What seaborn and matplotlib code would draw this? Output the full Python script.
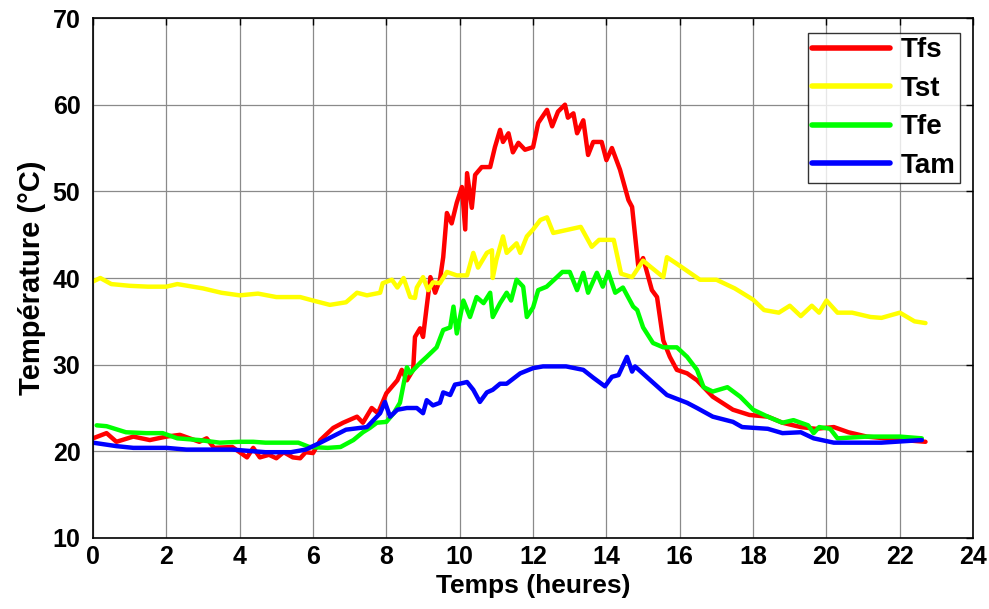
import pandas as pd
import numpy as np
import matplotlib
matplotlib.use("Agg")
import matplotlib.pyplot as plt
import seaborn as sns

# ==========================================
# 1. DONNÉES
# ==========================================
t_fs = [0.0, 0.37, 0.64, 1.1, 1.55, 2.0, 2.37, 2.9, 3.1, 3.3, 3.8, 4.2, 4.37, 4.55, 4.8, 5.0,
        5.2, 5.45, 5.65, 5.8, 6.0, 6.2, 6.55, 6.82, 7.2, 7.36, 7.6, 7.77, 8.0, 8.3, 8.42, 8.56,
        8.73, 8.78, 8.92, 9.0, 9.1, 9.2, 9.33, 9.46, 9.55, 9.65, 9.78, 9.92, 10.06, 10.15, 10.2,
        10.33, 10.42, 10.6, 10.83, 10.96, 11.1, 11.18, 11.33, 11.45, 11.6, 11.78, 12.0, 12.14,
        12.38, 12.52, 12.68, 12.87, 12.95, 13.1, 13.2, 13.37, 13.5, 13.64, 13.87, 14.0, 14.15,
        14.37, 14.6, 14.7, 14.87, 15.0, 15.24, 15.38, 15.55, 15.73, 15.92, 16.2, 16.47, 16.9,
        17.45, 17.6, 17.9, 18.4, 18.8, 19.3, 19.7, 20.2, 20.6, 21.1, 21.6, 22.1, 22.7]
v_fs = [21.5, 22.1, 21.1, 21.7, 21.3, 21.7, 21.9, 21.1, 21.5, 20.4, 20.5, 19.3, 20.4, 19.3,
        19.6, 19.2, 19.9, 19.3, 19.2, 19.9, 19.8, 21.3, 22.7, 23.3, 24.0, 23.3, 25.0, 24.4, 26.7,
        28.2, 29.4, 28.2, 29.4, 33.2, 34.2, 33.2, 36.7, 40.1, 38.3, 39.8, 42.4, 47.5, 46.3, 48.7,
        50.5, 45.6, 52.1, 48.1, 51.9, 52.8, 52.8, 55.1, 57.1, 55.7, 56.7, 54.5, 55.6, 54.8, 55.1,
        57.9, 59.4, 57.5, 59.2, 60.0, 58.5, 59.0, 56.7, 58.2, 54.2, 55.7, 55.7, 53.6, 55.0, 52.5,
        49.0, 48.2, 41.3, 42.3, 38.6, 37.8, 32.8, 30.9, 29.4, 29.0, 28.2, 26.3, 24.8, 24.6, 24.2,
        24.0, 23.3, 22.8, 22.6, 22.8, 22.2, 21.7, 21.5, 21.3, 21.1]

t_st = [0.0, 0.2, 0.5, 1.0, 1.5, 2.0, 2.3, 3.0, 3.5, 4.0, 4.5, 5.0, 5.65, 6.0, 6.46, 6.9, 7.2,
        7.47, 7.83, 7.9, 8.15, 8.3, 8.47, 8.65, 8.78, 8.83, 9.0, 9.14, 9.27, 9.46, 9.65, 9.92,
        10.2, 10.37, 10.5, 10.74, 10.88, 10.9, 11.0, 11.18, 11.28, 11.55, 11.65, 11.83, 12.0,
        12.2, 12.38, 12.55, 13.3, 13.6, 13.8, 14.2, 14.4, 14.7, 15.0, 15.2, 15.55, 15.65, 15.9,
        16.55, 17.0, 17.5, 18.0, 18.3, 18.7, 19.0, 19.3, 19.6, 19.8, 20.0, 20.3, 20.7, 21.2,
        21.5, 22.0, 22.4, 22.7]
v_st = [39.6, 40.0, 39.3, 39.1, 39.0, 39.0, 39.3, 38.8, 38.3, 38.0, 38.2, 37.8, 37.8, 37.4,
        36.9, 37.2, 38.3, 38.0, 38.3, 39.4, 39.8, 38.9, 40.0, 37.8, 37.7, 38.9, 40.1, 38.6, 39.5,
        39.4, 40.7, 40.3, 40.3, 42.9, 41.2, 42.9, 43.2, 40.0, 42.1, 44.8, 42.9, 44.0, 42.9, 44.8,
        45.6, 46.7, 47.0, 45.2, 45.9, 43.6, 44.4, 44.4, 40.5, 40.1, 42.0, 41.3, 40.1, 42.4, 41.7,
        39.8, 39.8, 38.8, 37.5, 36.3, 36.0, 36.8, 35.6, 36.8, 36.0, 37.4, 36.0, 36.0, 35.5, 35.4,
        36.0, 35.0, 34.8]

t_fe = [0.1, 0.37, 0.9, 1.45, 1.9, 2.3, 2.9, 3.46, 4.0, 4.37, 4.7, 5.25, 5.6, 5.9, 6.4, 6.75,
        7.1, 7.36, 7.55, 7.74, 8.0, 8.2, 8.37, 8.56, 8.65, 8.92, 9.1, 9.37, 9.55, 9.74, 9.83,
        9.92, 10.1, 10.28, 10.46, 10.65, 10.83, 10.9, 11.1, 11.28, 11.4, 11.55, 11.73, 11.83,
        12.0, 12.14, 12.37, 12.65, 12.8, 13.0, 13.2, 13.37, 13.5, 13.74, 13.9, 14.05, 14.24,
        14.45, 14.73, 14.84, 15.0, 15.27, 15.55, 15.92, 16.2, 16.47, 16.65, 16.9, 17.3, 17.65,
        18.0, 18.4, 18.8, 19.1, 19.5, 19.65, 19.8, 20.1, 20.3, 21.1, 22.0, 22.6]
v_fe = [23.0, 22.9, 22.2, 22.1, 22.1, 21.5, 21.3, 21.0, 21.1, 21.1, 21.0, 21.0, 21.0, 20.5,
        20.4, 20.5, 21.3, 22.2, 22.7, 23.3, 23.4, 24.4, 25.6, 29.7, 29.0, 30.2, 30.9, 32.0, 34.0,
        34.3, 36.7, 33.6, 37.4, 35.5, 37.8, 37.1, 38.3, 35.5, 37.1, 38.3, 37.4, 39.8, 39.0, 35.5,
        36.6, 38.6, 39.0, 40.1, 40.7, 40.7, 38.6, 40.6, 38.3, 40.6, 39.0, 40.7, 38.3, 38.9, 36.7,
        36.3, 34.3, 32.5, 32.0, 32.0, 30.9, 29.4, 27.4, 26.9, 27.4, 26.3, 24.8, 24.0, 23.3, 23.6,
        23.0, 22.1, 22.8, 22.6, 21.5, 21.7, 21.7, 21.5]

t_am = [0.0, 0.64, 1.1, 2.0, 2.55, 3.8, 4.7, 5.4, 5.8, 6.2, 6.9, 7.47, 7.65, 7.83, 7.96, 8.1,
        8.3, 8.56, 8.83, 9.0, 9.1, 9.27, 9.46, 9.55, 9.74, 9.87, 10.0, 10.2, 10.37, 10.55, 10.74,
        10.9, 11.1, 11.28, 11.65, 12.0, 12.27, 12.9, 13.37, 13.64, 13.96, 14.15, 14.33, 14.56,
        14.7, 14.78, 15.2, 15.65, 16.2, 16.47, 16.9, 17.45, 17.7, 18.4, 18.8, 19.3, 19.65, 20.2,
        21.5, 22.6]
v_am = [21.0, 20.6, 20.4, 20.4, 20.2, 20.2, 19.9, 19.9, 20.2, 21.0, 22.5, 22.8, 23.6, 24.4,
        25.7, 24.0, 24.8, 25.0, 25.0, 24.4, 25.9, 25.3, 25.6, 26.8, 26.5, 27.7, 27.8, 28.0, 27.1,
        25.7, 26.8, 27.1, 27.8, 27.8, 29.0, 29.6, 29.8, 29.8, 29.4, 28.5, 27.5, 28.6, 28.8, 30.9,
        29.2, 29.8, 28.2, 26.5, 25.6, 25.0, 24.0, 23.4, 22.8, 22.6, 22.1, 22.2, 21.5, 21.0, 21.0,
        21.3]

SERIES = ['Tfs', 'Tst', 'Tfe', 'Tam']
COULEURS = ['#ff0000', '#ffff00', '#00ff00', '#0000ff']

# ==========================================
# 2. MISE EN FORME
# ==========================================
frames = []
for nom, t, v in zip(SERIES, [t_fs, t_st, t_fe, t_am], [v_fs, v_st, v_fe, v_am]):
    frames.append(pd.DataFrame({'t': t, 'T': v, 'serie': nom}))
df = pd.concat(frames, ignore_index=True)

sns.set_theme(style="white")
plt.rcParams['font.family'] = ['Liberation Sans', 'DejaVu Sans']
plt.rcParams['font.weight'] = 'bold'
plt.rcParams['text.color'] = 'black'
plt.rcParams['axes.labelcolor'] = 'black'
plt.rcParams['xtick.color'] = 'black'
plt.rcParams['ytick.color'] = 'black'

fig = plt.figure(figsize=(9.89, 6.09), dpi=100)
ax = fig.add_axes([0.094, 0.1166, 0.89, 0.8538])

sns.lineplot(data=df, x='t', y='T', hue='serie', hue_order=SERIES,
             palette=COULEURS, linewidth=3.2, estimator=None, sort=False, ax=ax)

ax.set_xlim(0, 24)
ax.set_ylim(10, 70)
ax.set_xticks(np.arange(0, 25, 2))
ax.set_yticks(np.arange(10, 71, 10))
ax.grid(True, color='#8a8a8a', linewidth=0.9)
ax.set_axisbelow(True)
ax.tick_params(direction='in', length=5, width=1, top=True, right=True,
               labelsize=18, colors='black', labelcolor='black')
ax.tick_params(axis='y', pad=9)
ax.tick_params(axis='x', pad=5)
for lab in ax.get_xticklabels() + ax.get_yticklabels():
    lab.set_fontweight('bold')
for sp in ax.spines.values():
    sp.set_color('black')
    sp.set_linewidth(1.2)

ax.set_xlabel('Temps (heures)', fontsize=19, fontweight='bold', labelpad=4, color='black')
ax.set_ylabel('Température (°C)', fontsize=21, fontweight='bold', labelpad=5, color='black')

leg = ax.legend(loc='upper right', frameon=True, fancybox=False, edgecolor='black',
                prop={'size': 20, 'weight': 'bold'}, handlelength=2.8,
                borderpad=0.15, labelspacing=0.45, handletextpad=0.4,
                borderaxespad=0, bbox_to_anchor=(0.985, 0.971))
leg.get_frame().set_linewidth(1.0)
for txt in leg.get_texts():
    txt.set_color('black')
for line in leg.get_lines():
    line.set_linewidth(4)

fig.savefig('out.png', dpi=100)
